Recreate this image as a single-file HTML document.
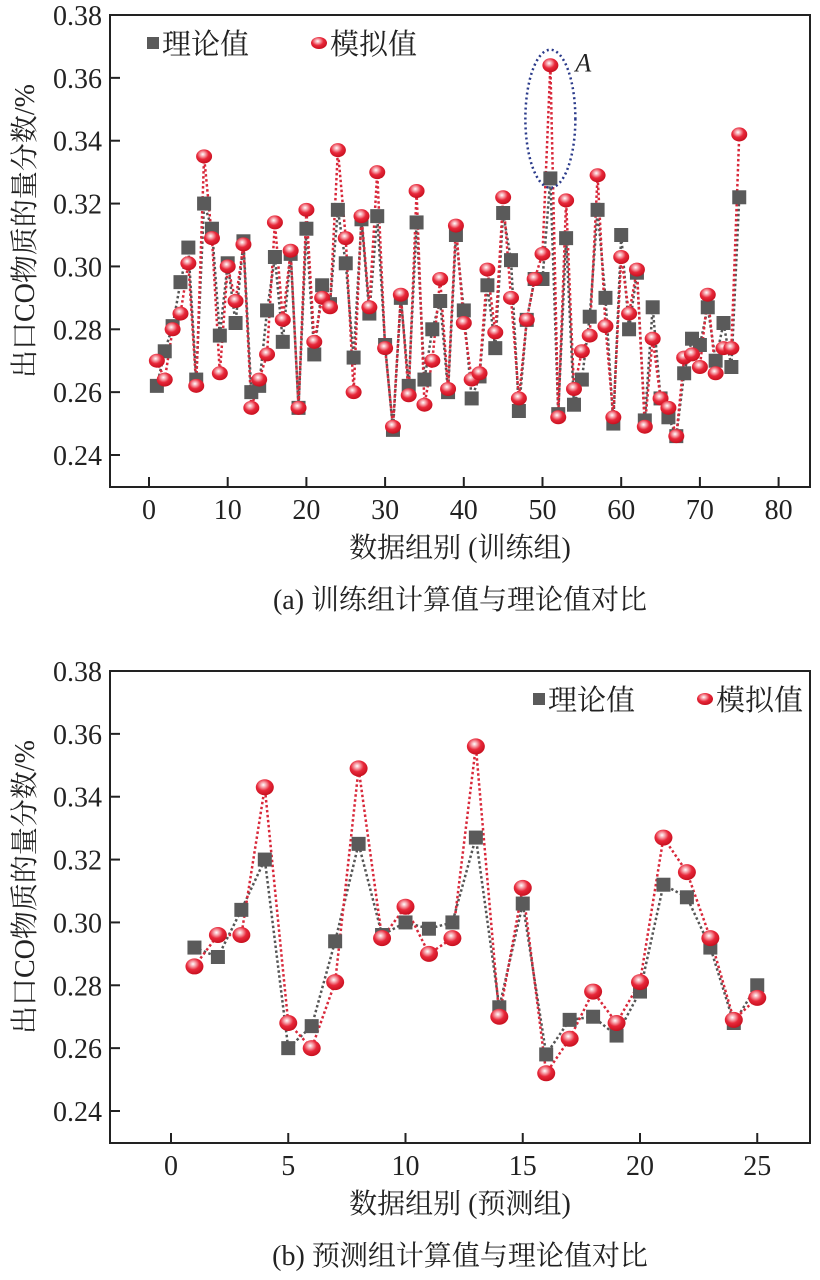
<!DOCTYPE html>
<html><head><meta charset="utf-8">
<style>
body{margin:0;background:#fff;width:820px;height:1275px;overflow:hidden;}
svg text{font-family:"Liberation Serif","Noto Serif CJK SC","Noto Sans CJK SC",serif;fill:#222;}
</style></head>
<body>
<svg id="fig" width="820" height="1275" viewBox="0 0 820 1275" xmlns="http://www.w3.org/2000/svg">
<defs>
<radialGradient id="ball" cx="0.42" cy="0.35" r="0.65">
<stop offset="0" stop-color="#fff"/><stop offset="0.25" stop-color="#f6a0a8"/><stop offset="0.55" stop-color="#e8283a"/><stop offset="1" stop-color="#c8101f"/>
</radialGradient>
</defs>
</svg>
<script>
const aTheory=[0.262,0.273,0.281,0.295,0.306,0.264,0.320,0.312,0.278,0.301,0.282,0.308,0.260,0.262,0.286,0.303,0.276,0.304,0.255,0.312,0.272,0.294,0.288,0.318,0.301,0.271,
0.315,0.285,0.316,0.275,0.248,0.290,0.262,0.314,0.264,0.280,0.289,0.260,0.310,0.286,0.258,0.265,0.294,0.274,0.317,0.302,0.254,0.283,0.296,0.296,
0.328,0.253,0.309,0.256,0.264,0.284,0.318,0.290,0.250,0.310,0.280,0.298,0.251,0.287,0.258,0.252,0.246,0.266,0.277,0.275,0.287,0.270,0.282,0.268,0.322];
const aSim=[0.270,0.264,0.280,0.285,0.301,0.262,0.335,0.309,0.266,0.300,0.289,0.307,0.255,0.264,0.272,0.314,0.283,0.305,0.255,0.318,0.276,0.290,0.287,0.337,0.309,0.260,
0.316,0.287,0.330,0.274,0.249,0.291,0.259,0.324,0.256,0.270,0.296,0.261,0.313,0.282,0.264,0.266,0.299,0.279,0.322,0.290,0.258,0.283,0.296,0.304,
0.364,0.252,0.321,0.261,0.273,0.278,0.329,0.281,0.252,0.303,0.285,0.299,0.249,0.277,0.258,0.255,0.246,0.271,0.272,0.268,0.291,0.266,0.274,0.274,0.342];
const bTheory=[0.292,0.289,0.304,0.320,0.260,0.267,0.294,0.325,0.296,0.300,0.298,0.300,0.327,0.273,0.306,0.258,0.269,0.270,0.264,0.278,0.312,0.308,0.292,0.268,0.280];
const bSim=[0.286,0.296,0.296,0.343,0.268,0.260,0.281,0.349,0.295,0.305,0.290,0.295,0.356,0.270,0.311,0.252,0.263,0.278,0.268,0.281,0.327,0.316,0.295,0.269,0.276];
const yTicks=[0.24,0.26,0.28,0.30,0.32,0.34,0.36,0.38];
const aXTicks=[0,10,20,30,40,50,60,70,80];
const bXTicks=[0,5,10,15,20,25];

const svg=document.getElementById('fig');
const NS='http://www.w3.org/2000/svg';
function mk(tag,attrs,parent,text){const e=document.createElementNS(NS,tag);for(const k in attrs)e.setAttribute(k,attrs[k]);if(text!==undefined)e.textContent=text;(parent||svg).appendChild(e);return e;}

function chart(cfg){
  const g=mk('g',{});
  
  
  const L=110,R=810,T=cfg.top,B=cfg.top+472;
  const y0=cfg.top+440, yPer=(440)/(0.14);
  const ys=v=>y0-(v-0.24)*yPer;
  const xs=v=>cfg.x0+v*cfg.xPer;
  const box=mk('rect',{x:L,y:T,width:R-L,height:B-T,fill:'none',stroke:'#222','stroke-width':2},g);
  
  yTicks.forEach(t=>{
    const tk=mk('line',{x1:L,x2:L+10,y1:ys(t),y2:ys(t),stroke:'#222','stroke-width':2},g);
    
    const tl=mk('text',{x:L-8,y:ys(t)+10,'text-anchor':'end','font-size':28},g,t.toFixed(2));
    
  });
  cfg.xTicks.forEach(t=>{
    const tk=mk('line',{x1:xs(t),x2:xs(t),y1:B,y2:B-10,stroke:'#222','stroke-width':2},g);
    
    const tl=mk('text',{x:xs(t),y:B+32,'text-anchor':'middle','font-size':28},g,String(t));
    
  });
  const yt=mk('text',{x:0,y:0,'text-anchor':'middle','font-size':28,transform:`translate(34,${(T+B)/2-20}) rotate(-90)`},g,'出口CO物质的量分数/%');
  
  const xt=mk('text',{x:460,y:B+70,'text-anchor':'middle','font-size':28},g,cfg.xlabel);
  
  const cap=mk('text',{x:460,y:B+122,'text-anchor':'middle','font-size':28},g,cfg.caption);
  
  const ptsT=cfg.theory.map((v,i)=>xs(i+1)+','+ys(v)).join(' ');
  const ptsS=cfg.sim.map((v,i)=>xs(i+1)+','+ys(v)).join(' ');
  const lt=mk('polyline',{points:ptsT,fill:'none',stroke:'#555','stroke-width':2.5,'stroke-dasharray':'2.5 2.5'},g);
  
  const ls=mk('polyline',{points:ptsS,fill:'none',stroke:'#d8283a','stroke-width':2.5,'stroke-dasharray':'2.5 2.5'},g);
  
  cfg.theory.forEach((v,i)=>{
    const s=mk('rect',{x:xs(i+1)-7,y:ys(v)-7,width:14,height:14,fill:'#5a5a5a'},g);
    
  });
  cfg.sim.forEach((v,i)=>{
    const c=mk('ellipse',{cx:xs(i+1),cy:ys(v),rx:cfg.r,ry:cfg.r-1,fill:'url(#ball)'},g);
    
  });
  const lg=mk('g',{},g);
  
  const lx=cfg.legX, ly=T+28;
  const m1=mk('rect',{x:lx,y:ly-6,width:12,height:12,fill:'#5a5a5a'},lg);
  
  const t1=mk('text',{x:lx+15,y:ly+11,'font-size':29},lg,'理论值');
  
  const m2=mk('ellipse',{cx:lx+172,cy:ly,rx:8,ry:6,fill:'url(#ball)'},lg);
  
  const t2=mk('text',{x:lx+183,y:ly+11,'font-size':29},lg,'模拟值');
  
  return {xs,ys,g};
}
const A=chart({name:'chart-training',top:15,x0:149,xPer:7.87,xTicks:aXTicks,theory:aTheory,sim:aSim,r:8,legX:147,xlabel:'数据组别 (训练组)',caption:'(a) 训练组计算值与理论值对比'});
const el=mk('ellipse',{cx:A.xs(51),cy:A.ys(0.347),rx:25,ry:69,fill:'none',stroke:'#2a3a8a','stroke-width':2.5,'stroke-dasharray':'2 3'},A.g);

const at=mk('text',{x:A.xs(51)+25,y:A.ys(0.364)+6,'font-size':26,'font-style':'italic'},A.g,'A');

chart({name:'chart-prediction',top:671,x0:171,xPer:23.45,xTicks:bXTicks,theory:bTheory,sim:bSim,r:9,legX:533,xlabel:'数据组别 (预测组)',caption:'(b) 预测组计算值与理论值对比'});
</script>
</body></html>
